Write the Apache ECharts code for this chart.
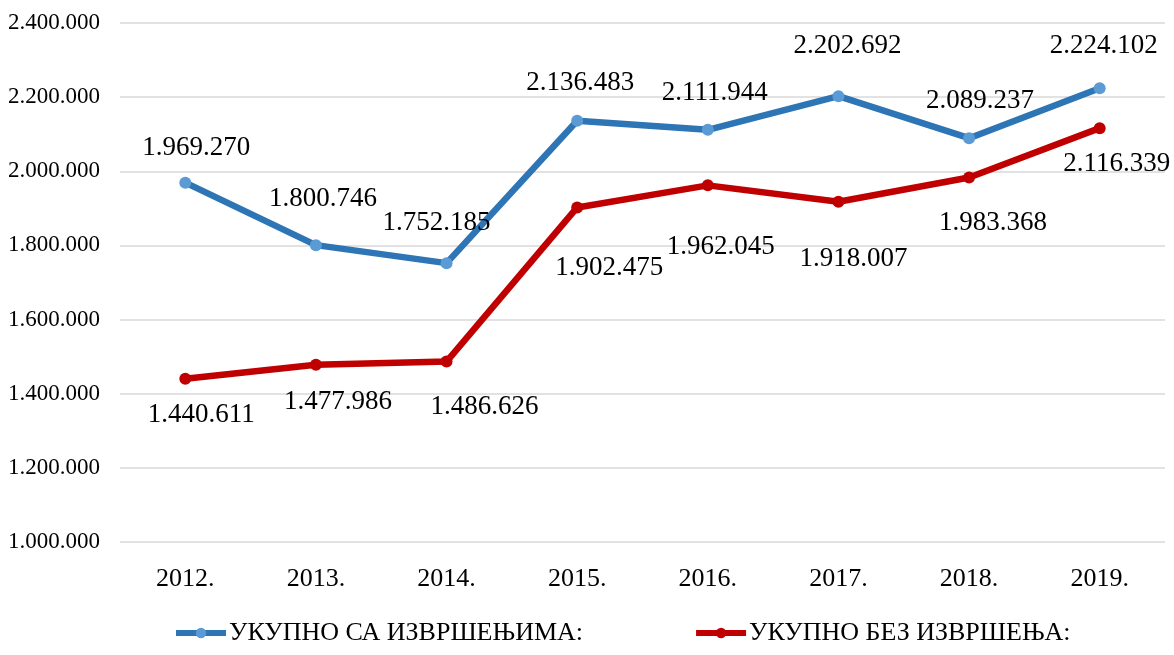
<!DOCTYPE html>
<html>
<head>
<meta charset="utf-8">
<script src="https://cdn.jsdelivr.net/npm/echarts@6/dist/echarts.min.js"></script>
<style>
html,body{margin:0;padding:0;background:#fff;}
#chart{width:1174px;height:655px;}
</style>
</head>
<body>
<div id="chart"></div>
<script>
const categories = ['2012.', '2013.', '2014.', '2015.', '2016.', '2017.', '2018.', '2019.'];
const seriesNames = ['УКУПНО СА ИЗВРШЕЊИМА:', 'УКУПНО БЕЗ ИЗВРШЕЊА:'];
const withEnforcement = [1969270, 1800746, 1752185, 2136483, 2111944, 2202692, 2089237, 2224102];
const withoutEnforcement = [1440611, 1477986, 1486626, 1902475, 1962045, 1918007, 1983368, 2116339];
const yMin = 1000000, yMax = 2400000, yStep = 200000;

// label offsets (relative to each point), style only
const blueLabelOffsets = [[11,-35],[7,-46],[-10,-40],[3,-38],[7,-37],[9,-50],[11,-37],[4,-42]];
const redLabelOffsets = [[16,36],[22,37],[38,45],[32,60],[13,62],[15,57],[24,45],[17,36]];

function fmt(v){ return String(Math.round(v)).replace(/\B(?=(\d{3})+(?!\d))/g, '.'); }

const FONT = "'Liberation Serif', 'Times New Roman', serif";

function build(values, offsets){
  return values.map((v,i)=>({value:v, label:{offset:offsets[i]}}));
}

const chart = echarts.init(document.getElementById('chart'), null, {renderer:'canvas'});
chart.setOption({
  animation:false,
  backgroundColor:'#ffffff',
  textStyle:{fontFamily:FONT},
  grid:{left:120, right:9, top:23, bottom:113, containLabel:false},
  legend:{
    bottom:4, left:168,
    itemWidth:50, itemHeight:13, itemGap:110,
    lineStyle:{width:6},
    textStyle:{fontFamily:FONT, fontSize:26, color:'#000', padding:[0,0,0,-2]},
    data:seriesNames
  },
  xAxis:{
    type:'category', data:categories, boundaryGap:true,
    axisLine:{show:false}, axisTick:{show:false},
    axisLabel:{fontFamily:FONT, fontSize:26, color:'#000', margin:24}
  },
  yAxis:{
    type:'value', min:yMin, max:yMax, interval:yStep,
    axisLine:{show:false}, axisTick:{show:false},
    splitLine:{lineStyle:{color:'#d9d9d9', width:1.5}},
    axisLabel:{fontFamily:FONT, fontSize:23, color:'#000', margin:20, formatter:fmt}
  },
  series:[
    {
      name:seriesNames[0], type:'line', data:build(withEnforcement, blueLabelOffsets),
      symbol:'circle', symbolSize:12,
      lineStyle:{color:'#2E75B6', width:6.5},
      itemStyle:{color:'#5B9BD5', borderWidth:0},
      color:'#2E75B6',
      label:{show:true, position:'inside', fontFamily:FONT, fontSize:27, color:'#000',
        formatter:p=>fmt(p.value)},
      z:3
    },
    {
      name:seriesNames[1], type:'line', data:build(withoutEnforcement, redLabelOffsets),
      symbol:'circle', symbolSize:12,
      lineStyle:{color:'#C00000', width:6.5},
      itemStyle:{color:'#C00000', borderWidth:0},
      color:'#C00000',
      label:{show:true, position:'inside', fontFamily:FONT, fontSize:27, color:'#000',
        formatter:p=>fmt(p.value)},
      z:2
    }
  ]
});
</script>
</body>
</html>
